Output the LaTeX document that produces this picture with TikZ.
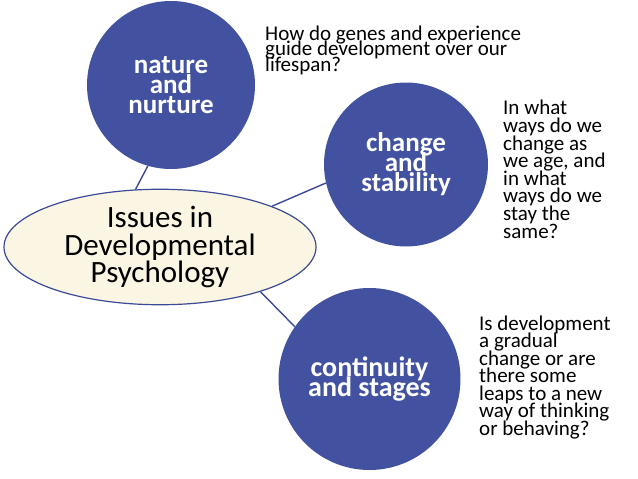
\documentclass[tikz,border=0pt]{standalone}
\usepackage{fontspec}
\setmainfont{Carlito}
\usetikzlibrary{shapes.geometric}
\definecolor{topicblue}{RGB}{66,82,160}
\definecolor{linkblue}{RGB}{60,74,150}
\definecolor{cream}{RGB}{251,246,228}
\newcommand\tightlines{\lineskiplimit=-1000pt\relax}

\begin{document}
\begin{tikzpicture}[x=1pt,y=-1pt,
  topic/.style={circle,fill=topicblue,inner sep=0pt,text=white,align=center,
    font=\fontsize{27}{20}\selectfont\bfseries\tightlines},
  question/.style={anchor=base west,inner sep=0pt,align=left},
  link/.style={draw=linkblue,line width=1.4pt}]
\useasboundingbox (0,0) rectangle (638,479);
\node[ellipse,draw=linkblue,line width=1.2pt,fill=cream,inner sep=0pt,
  minimum width=312pt,minimum height=100pt,align=center,
  font=\fontsize{31}{27.5}\selectfont\tightlines] (issues) at (160,247)
  {Issues in\\Developmental\\Psychology};
\node[topic,minimum size=168pt] (nature) at (171,85) {nature\\and\\nurture};
\node[topic,minimum size=164pt] (change) at (406,164.5) {change\\and\\stability};
\node[topic,minimum size=182pt,font=\fontsize{28}{20}\selectfont\bfseries\tightlines]
  (continuity) at (369.5,379) {continuity\\and stages};
\draw[link] (issues.113.7) -- (nature.254);
\draw[link] (issues.20.8) -- (change.193.4);
\draw[link] (issues.336.3) -- (continuity.145.8);
% questions are placed by the baseline of their last line
\node[question,font=\fontsize{21}{15.7}\selectfont\tightlines] (natureq) at (265,71.5)
  {How do genes and experience\\guide development over our\\lifespan?};
\node[question,font=\fontsize{21}{17.6}\selectfont\tightlines] (changeq) at (503,238)
  {In what\\ways do we\\change as\\we age, and\\in what\\ways do we\\stay the\\same?};
\node[question,font=\fontsize{21}{17.5}\selectfont\tightlines] (continuityq) at (479,435)
  {Is development\\a gradual\\change or are\\there some\\leaps to a new\\way of thinking\\or behaving?};
\end{tikzpicture}
\end{document}
